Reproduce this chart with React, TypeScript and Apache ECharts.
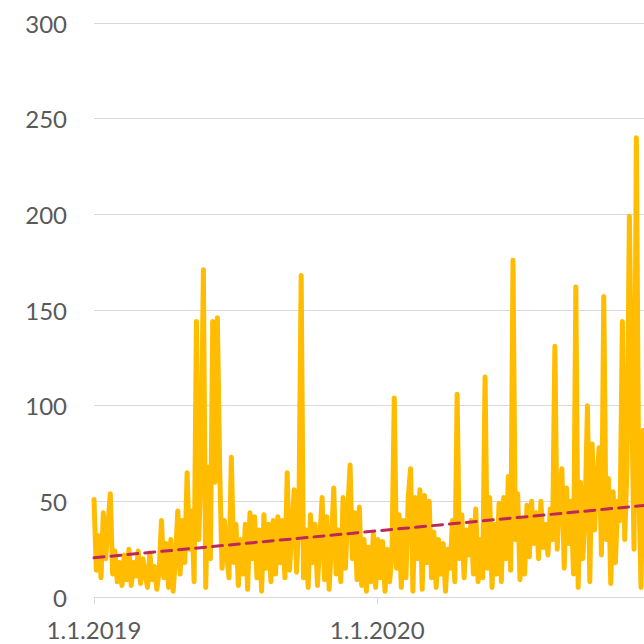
import React, { useEffect, useRef } from "react";
import * as echarts from "echarts";

// Daily-ish values sampled every 3 days starting 1.1.2019
const STEP_DAYS = 3;
const values: number[] = [
  51, 14, 32, 10, 44, 20, 37, 54, 12, 24,
  8, 18, 6, 22, 9, 25, 6, 18, 11, 24,
  7, 20, 12, 5, 23, 9, 16, 4, 14, 40,
  10, 28, 5, 30, 3, 20, 45, 12, 40, 18,
  65, 25, 45, 8, 144, 30, 70, 171, 5, 68,
  20, 144, 60, 146, 67, 15, 40, 22, 10, 73,
  18, 38, 6, 30, 12, 38, 4, 44, 20, 42,
  10, 35, 3, 43, 15, 38, 8, 40, 12, 42,
  18, 40, 10, 65, 14, 35, 56, 13, 40, 168,
  10, 35, 5, 43, 18, 38, 6, 30, 52, 9,
  42, 4, 28, 57, 12, 35, 8, 52, 15, 44,
  69, 20, 44, 9, 47, 6, 30, 3, 26, 8,
  33, 5, 30, 10, 29, 3, 25, 8, 22, 104,
  15, 43, 5, 40, 10, 52, 67, 3, 52, 20,
  56, 4, 53, 18, 50, 10, 34, 5, 30, 12,
  28, 3, 25, 15, 40, 8, 106, 20, 43, 10,
  35, 22, 40, 12, 46, 8, 30, 10, 115, 15,
  52, 5, 38, 12, 49, 8, 52, 20, 63, 14,
  176, 30, 54, 9, 40, 12, 48, 21, 50, 28,
  44, 20, 50, 26, 38, 22, 46, 30, 131, 25,
  55, 67, 15, 57, 28, 50, 12, 162, 5, 60,
  20, 45, 100, 8, 80, 35, 60, 78, 22, 157,
  30, 62, 7, 55, 18, 50, 40, 144, 30, 70,
  199, 104, 25, 240, 60, 5, 87, 50, 40,
];

// Linear trend endpoints (day index, value)
const trendDays = [0, 714];
const trendValues = [20.5, 48.0];

// X tick labels at day offsets
const xTickDays = [0, 365];
const xTickLabels = ["1.1.2019", "1.1.2020"];

const Y_MIN = 0;
const Y_MAX = 300;
const Y_STEP = 50;
const X_MAX_DAYS = 714;

export default function App() {
  const ref = useRef<HTMLDivElement>(null);

  useEffect(() => {
    if (!ref.current) return;
    const chart = echarts.init(ref.current, undefined, { renderer: "svg" });
    const lineData = values.map((v, i) => [i * STEP_DAYS, v]);
    const trendData = trendDays.map((d, i) => [d, trendValues[i]]);
    chart.setOption({
      animation: false,
      backgroundColor: "#ffffff",
      grid: { left: 94, right: 12, top: 23, bottom: 47, containLabel: false },
      xAxis: {
        type: "value",
        min: 0,
        max: X_MAX_DAYS,
        interval: 365,
        axisLine: { show: true, lineStyle: { color: "#d9d9d9", width: 1 } },
        axisTick: { show: true, length: 7, lineStyle: { color: "#d9d9d9", width: 1 } },
        splitLine: { show: false },
        axisLabel: {
          show: true,
          margin: 20,
          fontSize: 24,
          fontFamily: "Lato",
          color: "#595959",
          formatter: (val: number) => {
            const idx = xTickDays.indexOf(val);
            return idx >= 0 ? xTickLabels[idx] : "";
          },
        },
      },
      yAxis: {
        type: "value",
        min: Y_MIN,
        max: Y_MAX,
        interval: Y_STEP,
        axisLine: { show: false },
        axisTick: { show: false },
        splitLine: { show: true, lineStyle: { color: "#d9d9d9", width: 1 } },
        axisLabel: {
          margin: 27,
          fontSize: 24,
          fontFamily: "Lato",
          color: "#595959",
        },
      },
      series: [
        {
          type: "line",
          data: lineData,
          showSymbol: false,
          symbol: "none",
          lineStyle: { color: "#FFBC00", width: 5, cap: "round", join: "round" },
          z: 2,
        },
        {
          type: "line",
          data: trendData,
          showSymbol: false,
          symbol: "none",
          lineStyle: { color: "#BE2758", width: 3, type: [10, 7], cap: "round" },
          z: 3,
        },
      ],
    });
    return () => chart.dispose();
  }, []);

  return (
    <div
      style={{
        position: "fixed",
        left: 0,
        top: 0,
        width: 644,
        height: 644,
        overflow: "hidden",
        background: "#fff",
      }}
    >
      <div ref={ref} style={{ width: 660, height: 644 }} />
    </div>
  );
}
